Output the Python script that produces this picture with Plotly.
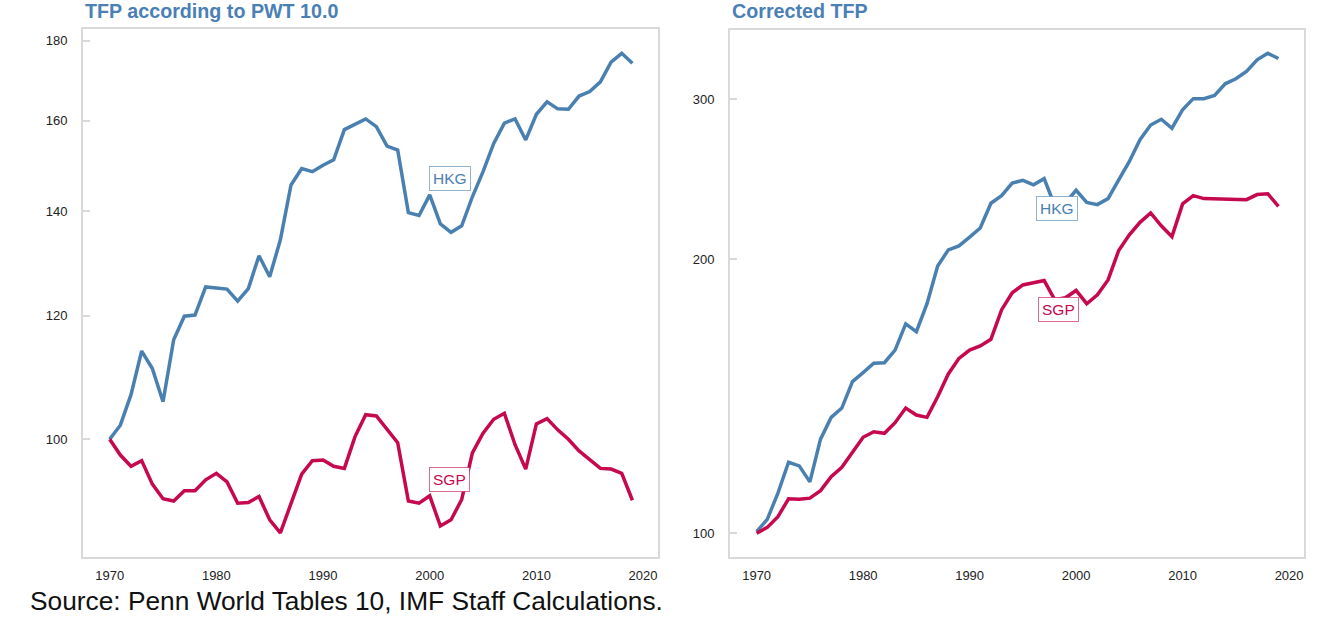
import plotly.graph_objects as go
import math

years = list(range(1970, 2020))

# Left panel: TFP according to PWT 10.0 (index, 1970 = 100)
hkg_pwt = [100.0, 102.1, 106.8, 113.9, 111.0, 105.7, 115.8, 119.9, 120.1, 125.2,
           125.0, 124.8, 122.6, 124.9, 131.1, 127.1, 134.2, 145.5, 149.1, 148.4,
           149.8, 151.0, 157.9, 159.2, 160.4, 158.6, 154.1, 153.2, 139.7, 139.1,
           143.4, 137.4, 135.7, 137.0, 143.0, 148.4, 154.7, 159.4, 160.4, 155.5,
           161.5, 164.5, 162.8, 162.7, 165.9, 167.0, 169.4, 174.4, 176.7, 174.1]
sgp_pwt = [100.0, 97.7, 96.1, 96.9, 93.6, 91.6, 91.3, 92.7, 92.7, 94.2,
           95.1, 93.9, 91.0, 91.1, 91.9, 88.8, 87.1, 90.9, 95.0, 96.9,
           97.0, 96.1, 95.8, 100.4, 103.7, 103.5, 101.5, 99.5, 91.3, 91.0,
           92.0, 88.0, 88.8, 91.5, 98.0, 100.9, 103.0, 103.9, 99.2, 95.7,
           102.3, 103.1, 101.4, 100.0, 98.3, 97.0, 95.8, 95.7, 95.1, 91.4]

# Right panel: Corrected TFP
hkg_cor = [100.4, 103.6, 110.7, 119.7, 118.6, 113.9, 126.9, 134.1, 137.3, 146.8,
           150.2, 153.8, 154.0, 159.0, 169.9, 166.6, 178.8, 196.7, 204.9, 207.0,
           211.6, 216.6, 230.6, 235.1, 242.7, 244.3, 241.6, 245.4, 229.0, 231.0,
           238.3, 231.1, 229.8, 233.3, 244.7, 256.3, 270.8, 281.1, 285.2, 278.8,
           292.2, 300.5, 300.5, 303.0, 312.0, 316.0, 322.0, 331.5, 337.0, 332.6]
sgp_cor = [100.0, 101.5, 104.3, 109.1, 109.0, 109.3, 111.4, 115.4, 118.2, 122.6,
           127.5, 129.3, 128.8, 132.3, 137.3, 134.9, 134.1, 141.3, 149.7, 155.7,
           159.0, 160.7, 163.4, 176.0, 183.8, 187.5, 188.4, 189.6, 180.6, 181.5,
           184.9, 178.8, 182.9, 189.9, 204.6, 212.9, 219.7, 225.0, 217.8, 211.9,
           230.2, 235.1, 233.3, 233.1, 232.9, 232.7, 232.7, 235.7, 236.2, 228.7]

x_ticks = [1970, 1980, 1990, 2000, 2010, 2020]
left_y_ticks = [100, 120, 140, 160, 180]
right_y_ticks = [100, 200, 300]

titles = ["TFP according to PWT 10.0", "Corrected TFP"]
source_text = "Source: Penn World Tables 10, IMF Staff Calculations."

HKG_COLOR = "#4a80b0"
SGP_COLOR = "#c6084f"
TITLE_COLOR = "#4a80b5"
FRAME = "#d9d9d9"
FONT = "Liberation Sans, Arial, sans-serif"

W, H = 1327, 627
fig = go.Figure()

fig.add_trace(go.Scatter(x=years, y=hkg_pwt, mode="lines", line=dict(color=HKG_COLOR, width=3.5),
                         xaxis="x", yaxis="y", showlegend=False))
fig.add_trace(go.Scatter(x=years, y=sgp_pwt, mode="lines", line=dict(color=SGP_COLOR, width=3.5),
                         xaxis="x", yaxis="y", showlegend=False))
fig.add_trace(go.Scatter(x=years, y=hkg_cor, mode="lines", line=dict(color=HKG_COLOR, width=3.5),
                         xaxis="x2", yaxis="y2", showlegend=False))
fig.add_trace(go.Scatter(x=years, y=sgp_cor, mode="lines", line=dict(color=SGP_COLOR, width=3.5),
                         xaxis="x2", yaxis="y2", showlegend=False))

def px_x(p):
    return p / W

def px_y(p):
    return (H - p) / H

xcommon = dict(range=[1967.5, 2021.4], tickvals=x_ticks, showgrid=False, zeroline=False,
               showline=True, mirror=True, linecolor=FRAME, linewidth=2, ticks="",
               tickfont=dict(family=FONT, size=13, color="#222222"), ticklabelstandoff=5)
ycommon = dict(type="log", showgrid=False, zeroline=False, showline=True, mirror=True,
               linecolor=FRAME, linewidth=2, ticks="inside", ticklen=7, tickcolor=FRAME,
               tickwidth=1.5, tickfont=dict(family=FONT, size=13, color="#222222"),
               ticklabelstandoff=11)

fig.update_layout(
    width=W, height=H, margin=dict(l=0, r=0, t=0, b=0),
    paper_bgcolor="white", plot_bgcolor="white",
    xaxis=dict(domain=[px_x(83), px_x(658)], anchor="y", **xcommon),
    yaxis=dict(domain=[px_y(557), px_y(29)], anchor="x", range=[1.9246, 2.2628],
               tickvals=left_y_ticks, ticktext=[str(v) for v in left_y_ticks], **ycommon),
    xaxis2=dict(domain=[px_x(730), px_x(1304)], anchor="y2", **xcommon),
    yaxis2=dict(domain=[px_y(557), px_y(30)], anchor="x2", range=[1.9739, 2.5533],
                tickvals=right_y_ticks, ticktext=[str(v) for v in right_y_ticks], **ycommon),
)

def label(text, x, y, xref, yref, color, border):
    fig.add_annotation(x=x, y=y, xref=xref, yref=yref, text=text, showarrow=False,
                       font=dict(family=FONT, size=15.5, color=color), bgcolor="white",
                       bordercolor=border, borderwidth=1, borderpad=3)

label("HKG", 2001.9, math.log10(147.0), "x", "y", HKG_COLOR, "rgba(74,128,176,0.6)")
label("SGP", 2001.85, math.log10(94.3), "x", "y", SGP_COLOR, "rgba(198,8,79,0.6)")
label("HKG", 1998.2, math.log10(227.6), "x2", "y2", HKG_COLOR, "rgba(74,128,176,0.6)")
label("SGP", 1998.3, math.log10(176.3), "x2", "y2", SGP_COLOR, "rgba(198,8,79,0.6)")

fig.add_annotation(x=px_x(83), y=px_y(11), xref="paper", yref="paper", text="<b>" + titles[0] + "</b>",
                   showarrow=False, xanchor="left", yanchor="middle",
                   font=dict(family=FONT, size=19.7, color=TITLE_COLOR))
fig.add_annotation(x=px_x(730), y=px_y(11), xref="paper", yref="paper", text="<b>" + titles[1] + "</b>",
                   showarrow=False, xanchor="left", yanchor="middle",
                   font=dict(family=FONT, size=19.7, color=TITLE_COLOR))
fig.add_annotation(x=px_x(28), y=px_y(601), xref="paper", yref="paper", text=source_text,
                   showarrow=False, xanchor="left", yanchor="middle",
                   font=dict(family=FONT, size=26.3, color="#111111"))

fig.write_html("out.html")
